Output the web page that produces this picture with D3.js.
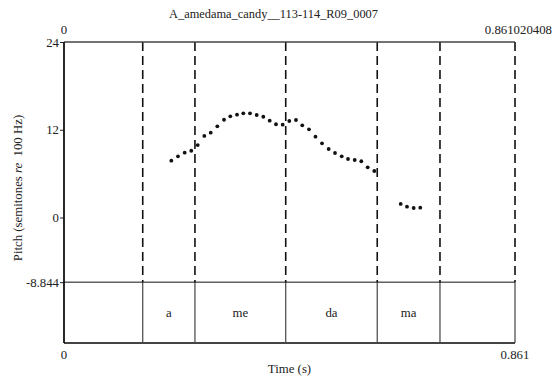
<!DOCTYPE html>
<html><head><meta charset="utf-8">
<script src="https://cdn.jsdelivr.net/npm/d3@7"></script>
<style>body{margin:0;background:#fff}svg{display:block}</style>
</head><body>
<script>
const title = "A_amedama_candy__113-114_R09_0007";
const tStart = 0, tEnd = 0.861020408;
const yTicks = [24, 12, 0, -8.844];
const pitchTimes = [0.2049,0.2176,0.2304,0.2430,0.2553,0.2679,0.2801,0.2927,0.3055,0.3175,0.3303,0.3423,0.3551,0.3679,0.3805,0.3927,0.4047,0.4175,0.4301,0.4429,0.4549,0.4677,0.4801,0.4926,0.5053,0.5174,0.5302,0.5422,0.5550,0.5676,0.5798,0.5924,0.6428,0.6548,0.6676,0.6802];
const pitchValues = [7.77,8.37,8.86,9.13,9.91,11.15,11.60,12.47,13.37,13.84,14.06,14.25,14.25,14.02,13.78,13.24,12.75,12.69,13.20,13.33,12.61,12.06,11.05,10.15,9.37,8.82,8.37,8.00,7.86,7.69,6.86,6.36,1.85,1.48,1.30,1.34];
const boundaries = [0.1503, 0.2500, 0.4233, 0.5980, 0.7178];
const segLabels = ["a", "me", "da", "ma"];

(function () {
const FONT = '"Liberation Serif", "Times New Roman", serif';
const FS = 12.8;
const W = 554, H = 381;
const pL = 64, pR = 515, pT = 42, pitchBottom = 282.2, pB = 343;
const svg = d3.select("body").append("svg").attr("width", W).attr("height", H);

const x = d3.scaleLinear().domain([tStart, tEnd]).range([pL, pR]);
const y = d3.scaleLinear().domain([24, 0]).range([pT, 217.5]);

svg.append("text").attr("x", 273.5).attr("y", 18).attr("text-anchor", "middle").attr("font-size", 12.4).text(title);
svg.append("text").attr("x", x(tStart)).attr("y", 34).attr("text-anchor", "middle").attr("font-size", FS).text(String(tStart));
svg.append("text").attr("x", 552).attr("y", 34).attr("text-anchor", "end").attr("font-size", FS).text(String(tEnd));

svg.selectAll("line.dash").data([...boundaries, tEnd]).join("line").attr("class", "dash")
  .attr("x1", d => x(d)).attr("x2", d => x(d)).attr("y1", pT).attr("y2", pitchBottom)
  .attr("stroke", "#111").attr("stroke-width", 1.6).attr("stroke-dasharray", "9,5");
svg.selectAll("line.tier").data([...boundaries, tEnd]).join("line").attr("class", "tier")
  .attr("x1", d => x(d)).attr("x2", d => x(d)).attr("y1", pitchBottom).attr("y2", pB)
  .attr("stroke", "#444").attr("stroke-width", 1.2);

svg.append("line").attr("x1", pL).attr("x2", pR).attr("y1", pT).attr("y2", pT).attr("stroke", "#444").attr("stroke-width", 1.5);
svg.append("line").attr("x1", pL).attr("x2", pR).attr("y1", y(-8.844)).attr("y2", y(-8.844)).attr("stroke", "#111").attr("stroke-width", 1);
svg.append("line").attr("x1", pL).attr("x2", pR).attr("y1", pB).attr("y2", pB).attr("stroke", "#444").attr("stroke-width", 2);

const yAxis = d3.axisLeft(y).tickValues(yTicks).tickSize(4).tickPadding(1).tickFormat(d => String(d));
const ga = svg.append("g").attr("transform", `translate(${pL},0)`).call(yAxis);
ga.select(".domain").remove();
ga.attr("font-family", null).attr("font-size", null);
ga.selectAll("text").attr("font-size", FS);
ga.selectAll(".tick line").attr("stroke", "#222");
svg.append("line").attr("x1", pL).attr("x2", pL).attr("y1", pT).attr("y2", pB).attr("stroke", "#111").attr("stroke-width", 1.8);

svg.selectAll("text.seg").data(segLabels).join("text").attr("class", "seg")
  .attr("x", (d, i) => (x(boundaries[i]) + x(boundaries[i + 1])) / 2)
  .attr("y", (pitchBottom + pB) / 2 + 4)
  .attr("text-anchor", "middle").attr("font-size", FS).text(d => d);

svg.selectAll("circle").data(pitchTimes).join("circle")
  .attr("cx", d => x(d)).attr("cy", (d, i) => y(pitchValues[i])).attr("r", 1.9).attr("fill", "#111");

svg.append("text").attr("x", x(tStart)).attr("y", 359).attr("text-anchor", "middle").attr("font-size", FS).text("0");
svg.append("text").attr("x", x(tEnd)).attr("y", 359).attr("text-anchor", "middle").attr("font-size", FS).text(tEnd.toFixed(3));
svg.append("text").attr("x", 289.5).attr("y", 373).attr("text-anchor", "middle").attr("font-size", FS).text("Time (s)");

const yl = svg.append("text").attr("transform", "translate(22,188) rotate(-90)").attr("text-anchor", "middle").attr("font-size", FS);
yl.append("tspan").text("Pitch (semitones ");
yl.append("tspan").attr("font-style", "italic").text("re");
yl.append("tspan").text("  100 Hz)").attr("xml:space", "preserve");

svg.selectAll("text").style("font-family", FONT).attr("fill", "#222");
})();
</script>
</body></html>
